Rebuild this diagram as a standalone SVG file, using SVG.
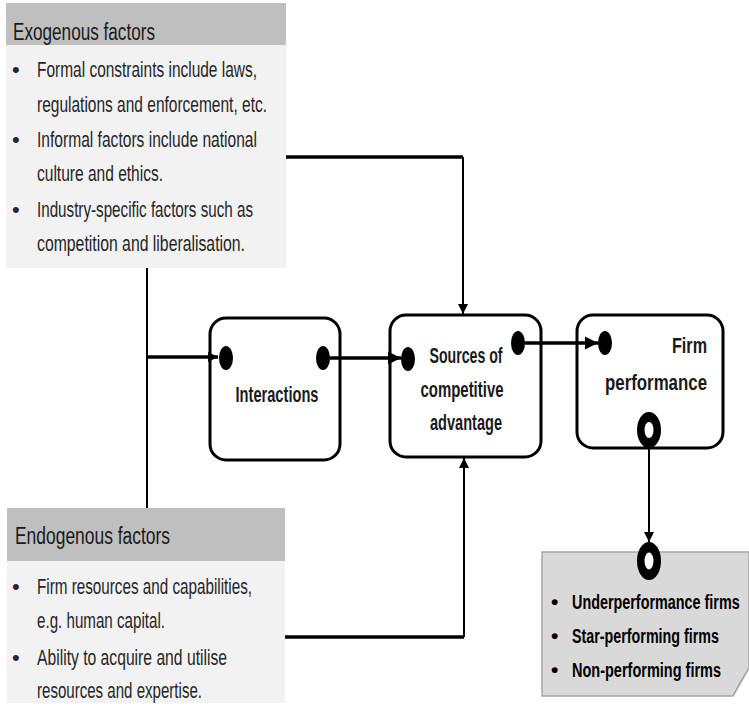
<svg xmlns="http://www.w3.org/2000/svg" width="749" height="713" viewBox="0 0 749 713">
<defs>
<style>
.t{font-family:"Liberation Sans",Arial,sans-serif;font-size:22px;fill:#262626}
.h{font-family:"Liberation Sans",Arial,sans-serif;font-size:23px;fill:#1a1a1a}
.b{font-family:"Liberation Sans",Arial,sans-serif;font-size:22px;font-weight:bold;fill:#1a1a1a}
.n{font-family:"Liberation Sans",Arial,sans-serif;font-size:21px;font-weight:bold;fill:#000}
.box{fill:#fff;stroke:#000;stroke-width:3}
.thick{stroke:#000;stroke-width:3.5;fill:none}
.thin{stroke:#000;stroke-width:2;fill:none}
.dot{fill:#000}
</style>
<marker id="ah" viewBox="0 0 10 10" refX="10" refY="5" markerWidth="10" markerHeight="10" markerUnits="userSpaceOnUse" orient="auto">
<path d="M0,0 L10,5 L0,10 Z" fill="#000"/>
</marker>
<marker id="ahb" viewBox="0 0 10 10" refX="10" refY="5" markerWidth="13" markerHeight="16" markerUnits="userSpaceOnUse" orient="auto">
<path d="M0,0 L10,5 L0,10 Z" fill="#000"/>
</marker>
</defs>
<rect width="749" height="713" fill="#fff"/>

<g id="exogenous">
<rect x="6" y="3" width="280" height="42" fill="#bfbfbf"/>
<rect x="6" y="45" width="280" height="223" fill="#f2f2f2"/>
<text class="h" x="13" y="40" textLength="142" lengthAdjust="spacingAndGlyphs">Exogenous factors</text>
<text class="t" x="12" y="77">•</text>
<text class="t" x="37" y="77" textLength="220" lengthAdjust="spacingAndGlyphs">Formal constraints include laws,</text>
<text class="t" x="37" y="112" textLength="230" lengthAdjust="spacingAndGlyphs">regulations and enforcement, etc.</text>
<text class="t" x="12" y="147">•</text>
<text class="t" x="37" y="147" textLength="220" lengthAdjust="spacingAndGlyphs">Informal factors include national</text>
<text class="t" x="37" y="181" textLength="126" lengthAdjust="spacingAndGlyphs">culture and ethics.</text>
<text class="t" x="12" y="217">•</text>
<text class="t" x="37" y="217" textLength="216" lengthAdjust="spacingAndGlyphs">Industry-specific factors such as</text>
<text class="t" x="37" y="251" textLength="208" lengthAdjust="spacingAndGlyphs">competition and liberalisation.</text>
</g>

<g id="endogenous">
<rect x="7" y="508" width="278" height="53" fill="#bfbfbf"/>
<rect x="7" y="561" width="278" height="142" fill="#f2f2f2"/>
<text class="h" x="15" y="544" textLength="155" lengthAdjust="spacingAndGlyphs">Endogenous factors</text>
<text class="t" x="12" y="594">•</text>
<text class="t" x="37" y="594" textLength="215" lengthAdjust="spacingAndGlyphs">Firm resources and capabilities,</text>
<text class="t" x="37" y="628" textLength="128" lengthAdjust="spacingAndGlyphs">e.g. human capital.</text>
<text class="t" x="12" y="665">•</text>
<text class="t" x="37" y="665" textLength="190" lengthAdjust="spacingAndGlyphs">Ability to acquire and utilise</text>
<text class="t" x="37" y="698" textLength="165" lengthAdjust="spacingAndGlyphs">resources and expertise.</text>
</g>

<g id="interactions">
<rect class="box" x="210" y="318" width="130" height="142" rx="16"/>
<ellipse class="dot" cx="226" cy="358" rx="7" ry="12"/>
<ellipse class="dot" cx="323" cy="358" rx="7" ry="12"/>
<text class="b" x="277" y="402" text-anchor="middle" textLength="83" lengthAdjust="spacingAndGlyphs">Interactions</text>
</g>

<g id="sources">
<rect class="box" x="390" y="315" width="151" height="142" rx="16"/>
<ellipse class="dot" cx="408" cy="359" rx="7" ry="12"/>
<ellipse class="dot" cx="518" cy="343" rx="7" ry="12"/>
<text class="b" x="466" y="363" text-anchor="middle" textLength="73" lengthAdjust="spacingAndGlyphs">Sources of</text>
<text class="b" x="462" y="397" text-anchor="middle" textLength="83" lengthAdjust="spacingAndGlyphs">competitive</text>
<text class="b" x="466" y="430" text-anchor="middle" textLength="72" lengthAdjust="spacingAndGlyphs">advantage</text>
</g>

<g id="firm-performance">
<rect class="box" x="577" y="315" width="146" height="133" rx="16"/>
<ellipse class="dot" cx="605" cy="343" rx="7" ry="12"/>
<text class="b" x="707" y="353" text-anchor="end" textLength="35" lengthAdjust="spacingAndGlyphs">Firm</text>
<text class="b" x="707" y="390" text-anchor="end" textLength="102" lengthAdjust="spacingAndGlyphs">performance</text>
<ellipse cx="649" cy="430" rx="12" ry="18" fill="#000"/>
<ellipse cx="649" cy="430" rx="4.5" ry="8" fill="#fff"/>
</g>

<g id="outcomes">
<path d="M542,552 H749 V668 L733,696 H542 Z" fill="#d9d9d9" stroke="#a6a6a6" stroke-width="1.5"/>
<path d="M749,668 L733,696 L740,682 Z" fill="#bfbfbf" stroke="#a6a6a6" stroke-width="1"/>
<ellipse cx="649" cy="561" rx="12" ry="19" fill="#000"/>
<ellipse cx="649" cy="561" rx="4.5" ry="8.5" fill="#fff"/>
<text class="n" x="551" y="609">•</text>
<text class="n" transform="translate(572,609) scale(0.69,1)" x="0" y="0" textLength="243" lengthAdjust="spacingAndGlyphs">Underperformance firms</text>
<text class="n" x="551" y="643">•</text>
<text class="n" transform="translate(572,643) scale(0.69,1)" x="0" y="0" textLength="213" lengthAdjust="spacingAndGlyphs">Star-performing firms</text>
<text class="n" x="551" y="677">•</text>
<text class="n" transform="translate(572,677) scale(0.69,1)" x="0" y="0" textLength="216" lengthAdjust="spacingAndGlyphs">Non-performing firms</text>
</g>

<g id="connectors">
<line class="thin" x1="147" y1="268" x2="147" y2="508"/>
<line class="thick" x1="147" y1="357" x2="218" y2="357" marker-end="url(#ah)"/>
<polyline class="thick" points="286,157 463,157"/>
<line class="thin" x1="463" y1="157" x2="463" y2="314" marker-end="url(#ah)"/>
<polyline class="thick" points="285,637 464,637"/>
<line class="thin" x1="464" y1="637" x2="464" y2="458" marker-end="url(#ah)"/>
<line class="thick" x1="330" y1="358" x2="401" y2="358" marker-end="url(#ahb)"/>
<line class="thick" x1="525" y1="343" x2="598" y2="343" marker-end="url(#ahb)"/>
<line class="thin" x1="649" y1="448" x2="649" y2="542" marker-end="url(#ah)"/>
</g>
</svg>
